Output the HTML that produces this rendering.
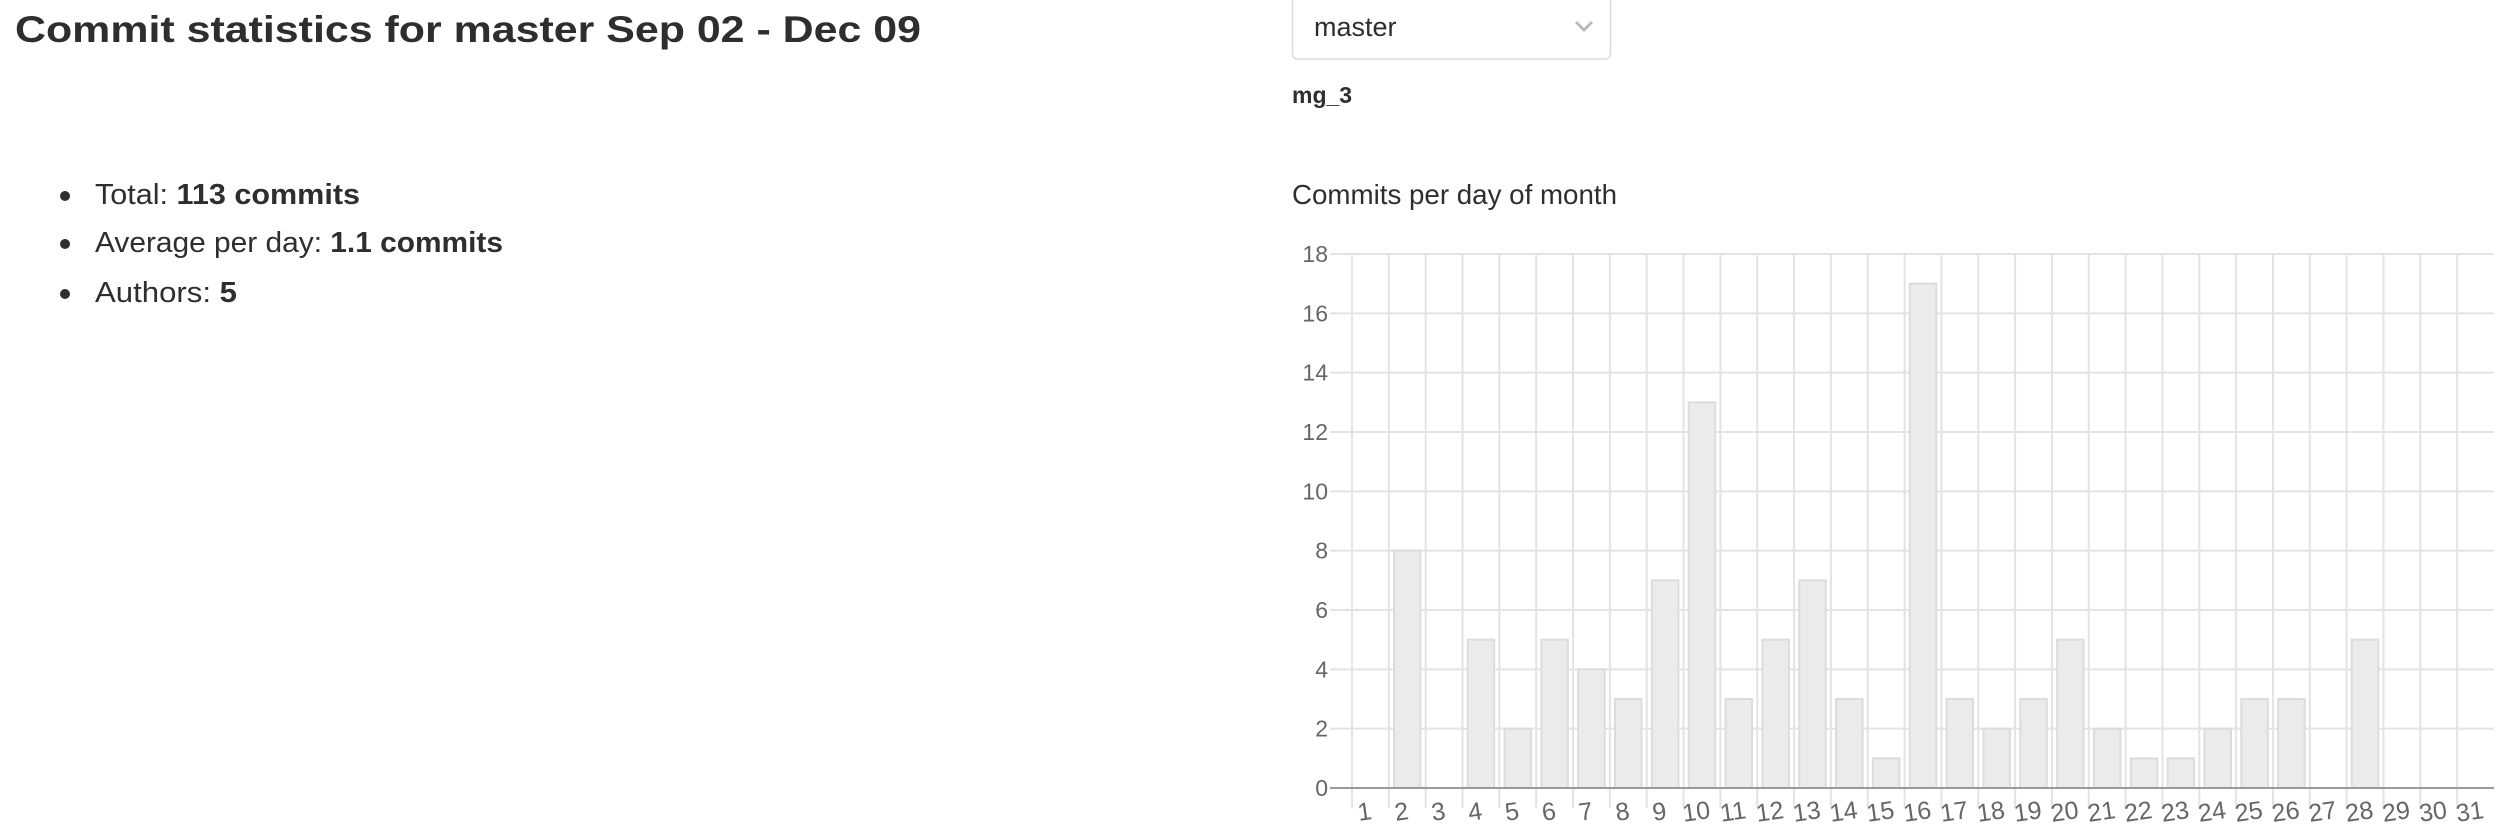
<!DOCTYPE html>
<html><head><meta charset="utf-8"><style>
html,body{margin:0;padding:0;background:#fff;width:2510px;height:838px;overflow:hidden}
svg{display:block;font-family:"Liberation Sans",sans-serif}
</style></head><body>
<svg id="root" width="2510" height="838" viewBox="0 0 2510 838">
  <text x="15" y="42" font-size="37" font-weight="bold" fill="#2e2e2e" textLength="906" lengthAdjust="spacingAndGlyphs">Commit statistics for master Sep 02 - Dec 09</text>
  <g fill="#2e2e2e" font-size="29">
    <circle cx="65" cy="196" r="5"/>
    <text x="95" y="204" textLength="265" lengthAdjust="spacingAndGlyphs">Total: <tspan font-weight="bold">113 commits</tspan></text>
    <circle cx="65" cy="244" r="5"/>
    <text x="95" y="252" textLength="408" lengthAdjust="spacingAndGlyphs">Average per day: <tspan font-weight="bold">1.1 commits</tspan></text>
    <circle cx="65" cy="294" r="5"/>
    <text x="95" y="302" textLength="142" lengthAdjust="spacingAndGlyphs">Authors: <tspan font-weight="bold">5</tspan></text>
  </g>
  <g>
    <rect x="1292.5" y="-6" width="318" height="65" rx="5" fill="#fff" stroke="#dcdcdc" stroke-width="1.5"/>
    <text x="1314" y="36" font-size="27" fill="#2e2e2e">master</text>
    <path d="M1576 22 L1584 30 L1592 22" fill="none" stroke="#bbb" stroke-width="3"/>
  </g>
  <text x="1292" y="103" font-size="23" font-weight="bold" fill="#2e2e2e">mg_3</text>
  <text x="1292" y="204" font-size="28" fill="#2e2e2e" textLength="325" lengthAdjust="spacingAndGlyphs">Commits per day of month</text>
  <g id="chart"></g>
</svg>
<script>
const days = ["1","2","3","4","5","6","7","8","9","10","11","12","13","14","15","16","17","18","19","20","21","22","23","24","25","26","27","28","29","30","31"];
const commits = [0,8,0,5,2,5,4,3,7,13,3,5,7,3,1,17,3,2,3,5,2,1,1,2,3,3,0,5,0,0,0];
const yTicks = [0,2,4,6,8,10,12,14,16,18];

const NS = "http://www.w3.org/2000/svg";
const chart = document.getElementById("chart");
const L = 1352, R = 2494, T = 254, B = 788, yMax = 18;
const bw = (R - L) / days.length;
const xs = i => L + i * bw;
const ys = v => B - (v / yMax) * (B - T);
function mk(tag, attrs){const e=document.createElementNS(NS,tag);for(const k in attrs)e.setAttribute(k,attrs[k]);chart.appendChild(e);return e;}

yTicks.forEach(t => {
  const y = ys(t);
  const g = mk("line",{x1:1330,x2:R,y1:y,y2:y,stroke:"#e3e3e3","stroke-width":2});
  
  
  const lb = mk("text",{x:1328,y:y+8,"text-anchor":"end","font-size":23,fill:"#666"});
  lb.textContent = t;
  
  
});
for (let i = 0; i < days.length; i++) {
  const x = xs(i);
  const v = mk("line",{x1:x,x2:x,y1:T,y2:808,stroke:"#e3e3e3","stroke-width":2});
  
  
}
commits.forEach((c, i) => {
  if (c <= 0) return;
  const w = bw * 0.72;
  const x = xs(i) + (bw - w) / 2;
  const r = mk("rect",{x:x,y:ys(c),width:w,height:B - ys(c),fill:"#ebebeb",stroke:"#dcdcdc","stroke-width":2});
  
  
});
const axis = mk("line",{x1:1330,x2:R,y1:B,y2:B,stroke:"#9a9a9a","stroke-width":2});


days.forEach((d, i) => {
  const cx = xs(i) + bw / 2 - 6;
  const t = mk("text",{x:cx,y:820,"text-anchor":"middle","font-size":25,fill:"#666",transform:"rotate(-8 "+cx+" 810)"});
  t.textContent = d;
  
  
});
</script>
</body></html>
